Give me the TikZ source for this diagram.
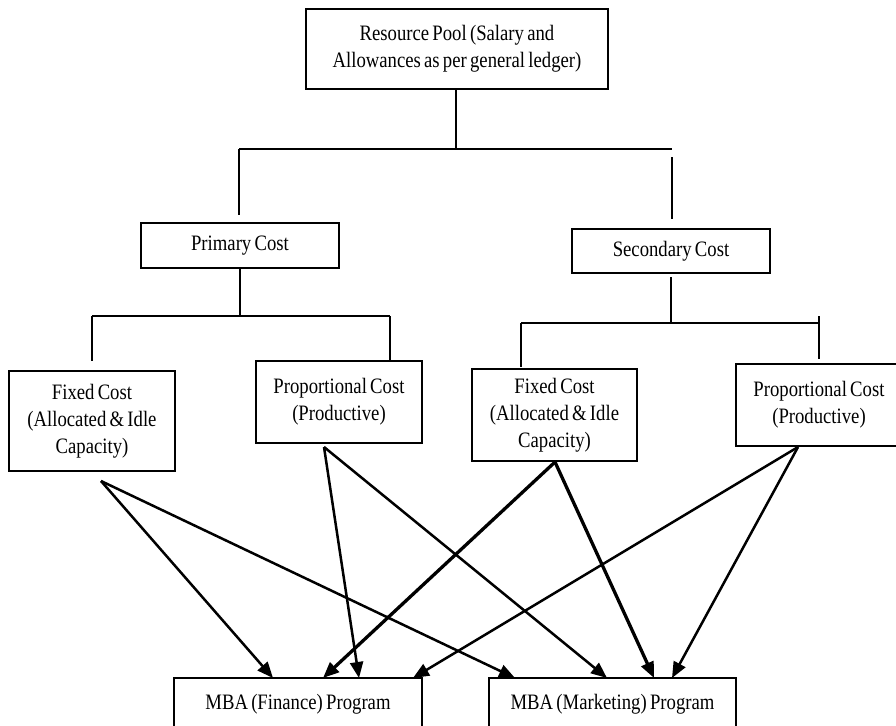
\documentclass[tikz,border=0pt]{standalone}
\usepackage{fontspec}
\setmainfont{Liberation Serif}[FakeStretch=0.85, WordSpace=0.7]
\usetikzlibrary{arrows.meta}
\tikzset{
  box/.style={draw, line width=1.4pt, inner sep=0pt, align=center,
    font=\fontsize{22}{27}\selectfont},
  tree/.style={line width=1.3pt},
  flow/.style={line width=2.5pt, -{Triangle[length=16pt,width=13pt]}},
  flowthick/.style={line width=3.3pt, -{Triangle[length=16pt,width=13pt]}}
}
\begin{document}
\begin{tikzpicture}[x=1pt,y=-1pt]
\useasboundingbox (0,0) rectangle (896,725);
% boxes
\node[box, minimum width=302pt, minimum height=80pt] (top) at (457,49)
  {Resource Pool (Salary and\\Allowances as per general ledger)};
\node[box, minimum width=198pt, minimum height=45pt] (prim) at (240,245.5) {Primary Cost};
\node[box, minimum width=198pt, minimum height=44pt] (sec) at (671,251) {Secondary Cost};
\node[box, minimum width=166pt, minimum height=100pt] (fixL) at (92,421)
  {Fixed Cost\\(Allocated \& Idle\\Capacity)};
\node[box, minimum width=166pt, minimum height=82pt] (propL) at (339,402)
  {Proportional Cost\\(Productive)};
\node[box, minimum width=165pt, minimum height=92pt] (fixR) at (554.5,415)
  {Fixed Cost\\(Allocated \& Idle\\Capacity)};
\node[box, minimum width=166pt, minimum height=82pt] (propR) at (819,405)
  {Proportional Cost\\(Productive)};
\node[box, minimum width=248pt, minimum height=52pt] (fin) at (298,704)
  {MBA (Finance) Program};
\node[box, minimum width=247pt, minimum height=52pt] (mkt) at (612.5,704)
  {MBA (Marketing) Program};
% tree connectors
\coordinate (t0) at (456,149);
\coordinate (tl) at (239,149);
\coordinate (tr) at (672,149);
\coordinate (tlb) at (239,215);
\coordinate (trt) at (672,157);
\coordinate (trb) at (672,219);
\draw[tree] (top.south -| t0) -- (t0);
\draw[tree] (tl) -- (tr);
\draw[tree] (tl) -- (tlb);
\draw[tree] (trt) -- (trb);

\coordinate (p0) at (240,316);
\coordinate (pl) at (92,316);
\coordinate (pr) at (390,316);
\coordinate (plb) at (92,361);
\draw[tree] (prim.south) -- (p0);
\draw[tree] (pl) -- (pr);
\draw[tree] (pl) -- (plb);
\draw[tree] (pr) -- (propL.north -| pr);

\coordinate (s0t) at (671,277);
\coordinate (s0) at (671,323);
\coordinate (sl) at (521,323);
\coordinate (sr) at (819,323);
\coordinate (srt) at (819,316);
\coordinate (slb) at (521,367);
\coordinate (srb) at (819,359);
\draw[tree] (s0t) -- (s0);
\draw[tree] (sl) -- (sr);
\draw[tree] (sl) -- (slb);
\draw[tree] (srt) -- (srb);

% arrow sources
\coordinate (a1) at (101,481);
\coordinate (a2) at (324,447);
\coordinate (a3) at (555,462);
\coordinate (a4) at (798,447);
% arrow targets
\coordinate (f1) at (273,678);
\coordinate (f2) at (323,678);
\coordinate (f3) at (359,678);
\coordinate (f4) at (413,678);
\coordinate (m1) at (515,678);
\coordinate (m2) at (607,678);
\coordinate (m3) at (654,678);
\coordinate (m4) at (672,678);

\draw[flow] (a1) -- (f1);
\draw[flow] (a1) -- (m1);
\draw[flow] (a2) -- (f3);
\draw[flow] (a2) -- (m2);
\draw[flowthick] (a3) -- (f2);
\draw[flowthick] (a3) -- (m3);
\draw[flow] (a4) -- (f4);
\draw[flow] (a4) -- (m4);
\end{tikzpicture}
\end{document}
